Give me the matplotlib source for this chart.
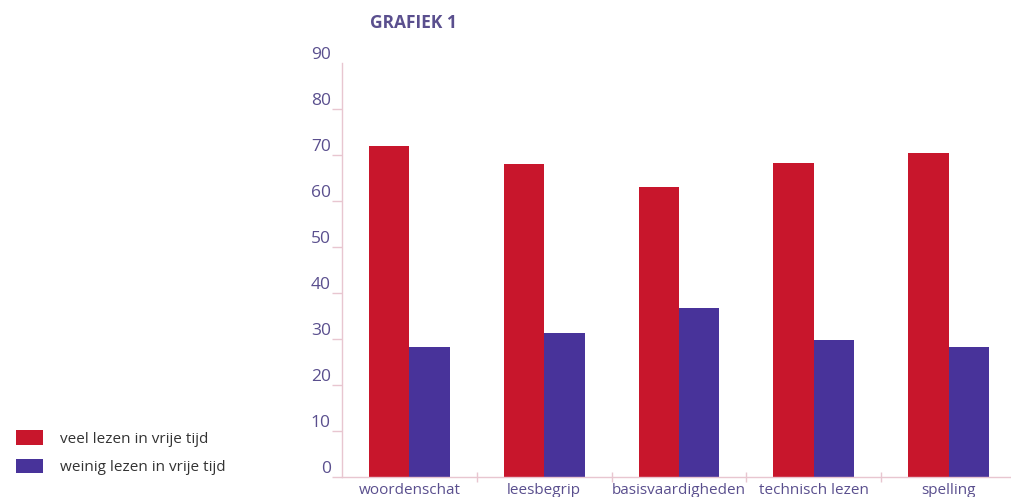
import numpy as np
import matplotlib.pyplot as plt
from matplotlib.transforms import ScaledTranslation
from matplotlib.patches import Patch

categories = ["woordenschat", "leesbegrip", "basisvaardigheden", "technisch lezen", "spelling"]
veel = [72.0, 68.1, 63.0, 68.3, 70.5]
weinig = [28.3, 31.4, 36.7, 29.8, 28.2]
series_labels = ["veel lezen in vrije tijd", "weinig lezen in vrije tijd"]
yticks = list(range(0, 100, 10))

red = "#c8162c"
purple = "#48339a"
pink = "#e8c6d0"
label_col = "#5a4f8e"

plt.rcParams['font.family'] = ['Open Sans', 'DejaVu Sans']

fig = plt.figure(figsize=(10.11, 4.97), dpi=100)
ax = fig.add_axes([342/1011, 20/497, 674/1011, 414/497])

x = np.arange(len(categories))
w = 0.30
ax.bar(x - w/2, veel, width=w, color=red, edgecolor='none')
ax.bar(x + w/2, weinig, width=w, color=purple, edgecolor='none')

ax.set_xlim(-0.5, 4.5)
ax.set_ylim(0, 90)
ax.set_yticks(yticks)
ax.set_yticklabels([str(v) for v in yticks])
ax.tick_params(axis='y', length=7, width=1, color=pink, labelcolor=label_col,
               labelsize=12.5, pad=1)
ax.yaxis.get_major_ticks()[-1].tick1line.set_visible(False)
# labels sit a bit above their tick marks in the original
off = ScaledTranslation(0, 10/100, fig.dpi_scale_trans)
for lab in ax.get_yticklabels():
    lab.set_transform(lab.get_transform() + off)

ax.set_xticks(x)
ax.set_xticklabels(categories)
ax.tick_params(axis='x', which='major', length=0, labelcolor=label_col,
               labelsize=11, pad=4)
ax.set_xticks(np.arange(0.5, 4.5, 1), minor=True)
ax.tick_params(axis='x', which='minor', direction='inout', length=7, width=1, color=pink)

for s in ['top', 'right']:
    ax.spines[s].set_visible(False)
for s in ['left', 'bottom']:
    ax.spines[s].set_color(pink)
    ax.spines[s].set_linewidth(1)

fig.text(370/1011, 1 - 28/497, "GRAFIEK 1", fontsize=12.5, fontweight='bold',
         color=label_col, ha='left', va='baseline')

handles = [Patch(facecolor=red, edgecolor='none'), Patch(facecolor=purple, edgecolor='none')]
fig.legend(handles, series_labels, loc='lower left', bbox_to_anchor=(2/1011, 8/497),
           frameon=False, fontsize=11, handlelength=1.8, handleheight=1.05,
           handletextpad=1.1, labelspacing=0.8, labelcolor='#333333')

fig.savefig("out.png", dpi=100)
